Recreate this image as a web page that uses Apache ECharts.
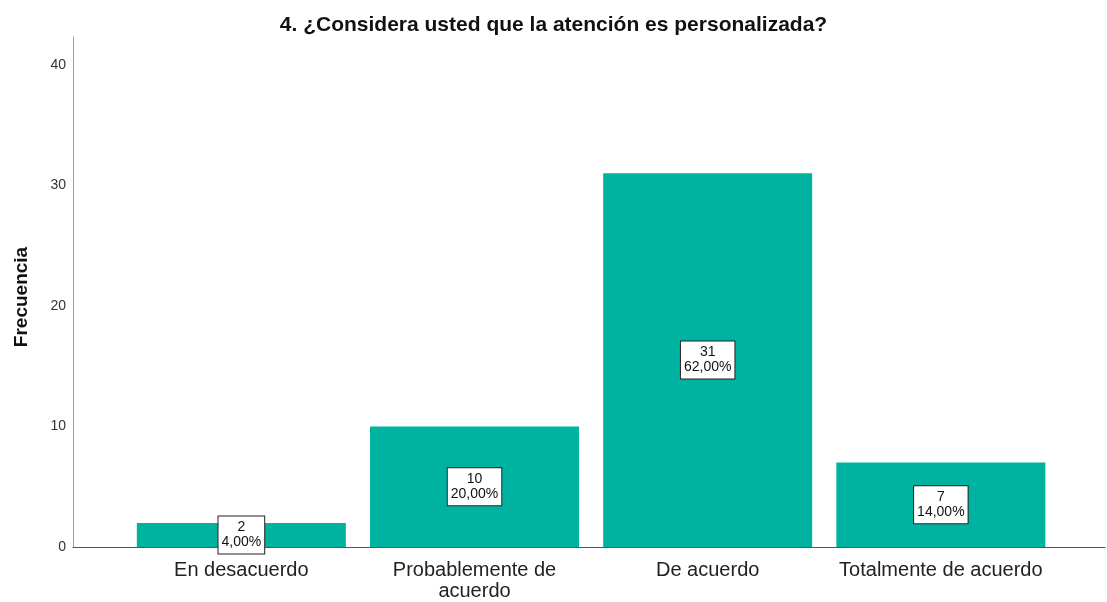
<!DOCTYPE html>
<html><head><meta charset="utf-8">
<script src="https://cdn.jsdelivr.net/npm/echarts@6/dist/echarts.min.js"></script>
<style>html,body{margin:0;padding:0;background:#fff}#c{width:1107px;height:602px}</style>
</head><body><div id="c"></div>
<script>
const categories = ['En desacuerdo', 'Probablemente de\nacuerdo', 'De acuerdo', 'Totalmente de acuerdo'];
const counts = [2, 10, 31, 7];
const percents = ['4,00%', '20,00%', '62,00%', '14,00%'];
const yTicks = [0, 10, 20, 30, 40];
const titleText = '4. ¿Considera usted que la atención es personalizada?';

const chart = echarts.init(document.getElementById('c'));
chart.setOption({
  animation: false,
  backgroundColor: '#fff',
  title: {
    text: titleText, left: 'center', top: 10,
    textStyle: {fontFamily: 'Liberation Sans', fontSize: 21, fontWeight: 'bold', color: '#111'}
  },
  grid: {left: 73, right: 2, top: 37, bottom: 55},
  xAxis: {
    type: 'value', min: -0.722, max: 3.704,
    axisLine: {show: true, onZero: false, lineStyle: {color: '#555', width: 1}},
    axisTick: {show: false},
    splitLine: {show: false},
    axisLabel: {
      customValues: categories.map((c, i) => i),
      formatter: v => categories[Math.round(v)] || '',
      fontFamily: 'Liberation Sans', fontSize: 20, color: '#222', lineHeight: 21, margin: 13
    }
  },
  yAxis: {
    type: 'value', min: 0, max: 42.3, interval: 10,
    name: 'Frecuencia', nameLocation: 'middle', nameGap: 42,
    nameTextStyle: {fontFamily: 'Liberation Sans', fontSize: 19, fontWeight: 'bold', color: '#111', padding: [0, 10, 0, 0]},
    axisLine: {show: true, onZero: false, lineStyle: {color: '#a0a0a0', width: 1}},
    axisTick: {show: false},
    splitLine: {show: false},
    axisLabel: {
      customValues: yTicks,
      fontFamily: 'Liberation Sans', fontSize: 14, color: '#333', margin: 7
    }
  },
  series: [{
    type: 'bar',
    barWidth: 209,
    data: counts.map((v, i) => [i, v]),
    itemStyle: {color: '#00B3A0'},
    label: {
      show: true, position: 'inside',
      formatter: p => counts[p.dataIndex] + '\n' + percents[p.dataIndex],
      fontFamily: 'Liberation Sans', fontSize: 14, color: '#111', lineHeight: 15,
      backgroundColor: '#fff', borderColor: '#222', borderWidth: 1, padding: [4, 3, 3, 3],
      align: 'center'
    }
  }]
});
</script></body></html>
